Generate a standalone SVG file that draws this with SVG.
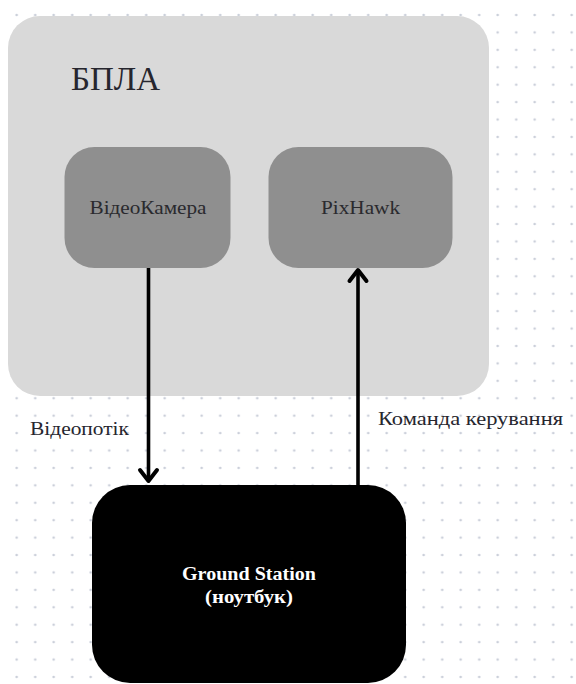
<svg xmlns="http://www.w3.org/2000/svg" width="576" height="684" viewBox="0 0 576 684">
  <style>
    .lbl { font-family: "Liberation Serif", "DejaVu Serif", serif; fill: #26262e; }
    .inner { font-family: "Liberation Serif", "DejaVu Serif", serif; fill: #2a2a2e; font-size: 18px; text-anchor: middle; }
    .gs { font-family: "Liberation Serif", "DejaVu Serif", serif; fill: #ffffff; font-size: 18px; font-weight: bold; text-anchor: middle; }
    .conn { stroke: #000; stroke-width: 3.6; fill: none; }
  </style>
  <defs>
    <pattern id="dots" patternUnits="userSpaceOnUse" x="7.45" y="6.29" width="18.5" height="17.42">
      <circle cx="9.25" cy="8.71" r="1.2" fill="#c6cbd6"/>
    </pattern>
    <marker id="chev" markerUnits="userSpaceOnUse" viewBox="0 0 24 24" markerWidth="24" markerHeight="24" refX="15" refY="12" orient="auto">
      <path d="M4 3.5 L15 12 L4 20.5" fill="none" stroke="#000" stroke-width="4" stroke-linecap="round" stroke-linejoin="round"/>
    </marker>
  </defs>
  <rect width="576" height="684" fill="#ffffff"/>
  <rect width="576" height="684" fill="url(#dots)"/>

  <g id="uav">
    <rect x="8" y="16" width="481" height="380" rx="32" fill="#d9d9d9"/>
    <text class="lbl" x="71" y="90" font-size="33" textLength="89" lengthAdjust="spacingAndGlyphs" fill="#111">БПЛА</text>
  </g>

  <g id="camera">
    <rect x="64.5" y="147" width="166" height="121" rx="30" fill="#8f8f8f"/>
    <text class="inner" x="148" y="214" textLength="117" lengthAdjust="spacingAndGlyphs">ВідеоКамера</text>
  </g>

  <g id="pixhawk">
    <rect x="268.5" y="147" width="184" height="121" rx="30" fill="#8f8f8f"/>
    <text class="inner" x="360.5" y="214" textLength="79" lengthAdjust="spacingAndGlyphs">PixHawk</text>
  </g>

  <g id="ground-station">
    <rect x="92" y="485" width="314" height="198" rx="38" fill="#000000"/>
    <text class="gs" x="249" y="580" textLength="134" lengthAdjust="spacingAndGlyphs">Ground Station</text>
    <text class="gs" x="249" y="603" textLength="88" lengthAdjust="spacingAndGlyphs">(ноутбук)</text>
  </g>

  <g id="connectors">
    <line class="conn" x1="148.5" y1="268" x2="148.5" y2="481" marker-end="url(#chev)"/>
    <line class="conn" x1="358" y1="486" x2="358" y2="270" marker-end="url(#chev)"/>
    <text class="lbl" x="30" y="435" font-size="18.5" textLength="99" lengthAdjust="spacingAndGlyphs">Відеопотік</text>
    <text class="lbl" x="378" y="425" font-size="18.5" textLength="185" lengthAdjust="spacingAndGlyphs">Команда керування</text>
  </g>
</svg>
